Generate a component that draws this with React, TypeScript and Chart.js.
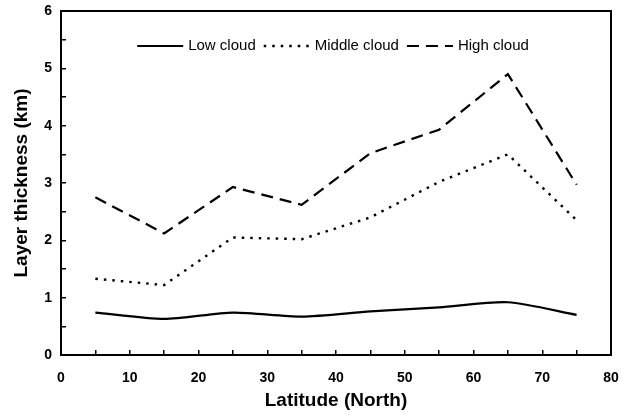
import React, { useEffect, useRef } from 'react';
import { Chart, registerables } from 'chart.js';

Chart.register(...registerables);

const latitudes = [5, 15, 25, 35, 45, 55, 65, 75];
const lowCloud = [0.74, 0.63, 0.74, 0.67, 0.76, 0.83, 0.92, 0.7];
const middleCloud = [1.33, 1.22, 2.05, 2.02, 2.4, 3.02, 3.5, 2.35];
const highCloud = [2.75, 2.12, 2.93, 2.62, 3.52, 3.93, 4.9, 2.97];
const seriesLabels = ['Low cloud', 'Middle cloud', 'High cloud'];
const xTickLabels = [0, 10, 20, 30, 40, 50, 60, 70, 80];
const yTickLabels = [0, 1, 2, 3, 4, 5, 6];
const xTitle = 'Latitude (North)';
const yTitle = 'Layer thickness (km)';

const FONT = '"Liberation Sans", Arial, sans-serif';

const boxPlugin = {
  id: 'plotBox',
  afterDraw(chart: any) {
    const { ctx, chartArea: a } = chart;
    ctx.save();
    ctx.strokeStyle = '#000';
    ctx.lineWidth = 2;
    ctx.strokeRect(a.left, a.top, a.right - a.left, a.bottom - a.top);
    ctx.restore();
  },
};

const legendPlugin = {
  id: 'insideLegend',
  afterDraw(chart: any) {
    const { ctx, chartArea: a } = chart;
    ctx.save();
    ctx.font = `15px ${FONT}`;
    const lineLen = 46;
    const gapText = 5;
    const gapItem = 8;
    const items = chart.data.datasets.map((ds: any) => ({
      label: ds.label as string,
      dash: (ds.borderDash || []) as number[],
      width: ds.borderWidth as number,
    }));
    let total = 0;
    items.forEach((it: any, i: number) => {
      total += lineLen + gapText + ctx.measureText(it.label).width + (i < items.length - 1 ? gapItem : 0);
    });
    let x = (a.left + a.right) / 2 - total / 2 - 3;
    const y = a.top + 35;
    items.forEach((it: any) => {
      ctx.beginPath();
      ctx.setLineDash(it.dash);
      ctx.lineWidth = it.width;
      ctx.strokeStyle = '#000';
      ctx.moveTo(x, y);
      ctx.lineTo(x + lineLen, y);
      ctx.stroke();
      ctx.setLineDash([]);
      x += lineLen + gapText;
      ctx.fillStyle = '#000';
      ctx.textBaseline = 'middle';
      ctx.textAlign = 'left';
      ctx.fillText(it.label, x, y);
      x += ctx.measureText(it.label).width + gapItem;
    });
    ctx.restore();
  },
};

export default function App() {
  const ref = useRef<HTMLCanvasElement | null>(null);

  useEffect(() => {
    document.body.style.margin = '0';
    const canvas = ref.current;
    if (!canvas) return;
    const toPts = (vals: number[]) => latitudes.map((x, i) => ({ x, y: vals[i] }));
    const chart = new Chart(canvas, {
      type: 'line',
      data: {
        datasets: [
          {
            label: seriesLabels[0],
            data: toPts(lowCloud),
            borderColor: '#000',
            borderWidth: 2.2,
            pointRadius: 0,
            tension: 0.25,
            fill: false,
          },
          {
            label: seriesLabels[1],
            data: toPts(middleCloud),
            borderColor: '#000',
            borderWidth: 2.4,
            borderDash: [2.5, 6],
            pointRadius: 0,
            tension: 0,
            fill: false,
          },
          {
            label: seriesLabels[2],
            data: toPts(highCloud),
            borderColor: '#000',
            borderWidth: 2.2,
            borderDash: [12, 7],
            pointRadius: 0,
            tension: 0,
            fill: false,
          },
        ],
      },
      options: {
        responsive: false,
        animation: false,
        layout: { padding: { top: 11, right: 16, left: 0, bottom: 0 } },
        plugins: { legend: { display: false }, tooltip: { enabled: false } },
        scales: {
          x: {
            type: 'linear',
            min: 0,
            max: 80,
            afterFit: (s: any) => {
              s.height = 61;
              s.paddingLeft = 0;
              s.paddingRight = 0;
            },
            ticks: {
              stepSize: 5,
              autoSkip: false,
              maxRotation: 0,
              padding: 20,
              color: '#000',
              font: { family: FONT, size: 14, weight: 'bold' },
              callback: (v: any) => (xTickLabels.includes(Number(v)) ? String(v) : ''),
            },
            grid: { drawOnChartArea: false, drawTicks: true, tickLength: -5, color: '#000', lineWidth: 1.5 },
            border: { color: '#000', width: 2 },
            title: {
              display: true,
              text: xTitle,
              color: '#000',
              font: { family: FONT, size: 19, weight: 'bold' },
              padding: { top: 0, bottom: 4 },
            },
          },
          y: {
            type: 'linear',
            min: 0,
            max: 6,
            afterFit: (s: any) => {
              s.width = 61;
              s.paddingTop = 0;
              s.paddingBottom = 0;
            },
            ticks: {
              stepSize: 0.5,
              autoSkip: false,
              padding: 14,
              color: '#000',
              font: { family: FONT, size: 14, weight: 'bold' },
              callback: (v: any) => (yTickLabels.includes(Number(v)) ? String(v) : ''),
            },
            grid: { drawOnChartArea: false, drawTicks: true, tickLength: -5, color: '#000', lineWidth: 1.5 },
            border: { color: '#000', width: 2 },
            title: {
              display: true,
              text: yTitle,
              color: '#000',
              font: { family: FONT, size: 19, weight: 'bold' },
              padding: { top: 10, bottom: 0 },
            },
          },
        },
      },
      plugins: [boxPlugin, legendPlugin],
    } as any);
    return () => chart.destroy();
  }, []);

  return <canvas ref={ref} width={627} height={416} style={{ display: 'block' }} />;
}
